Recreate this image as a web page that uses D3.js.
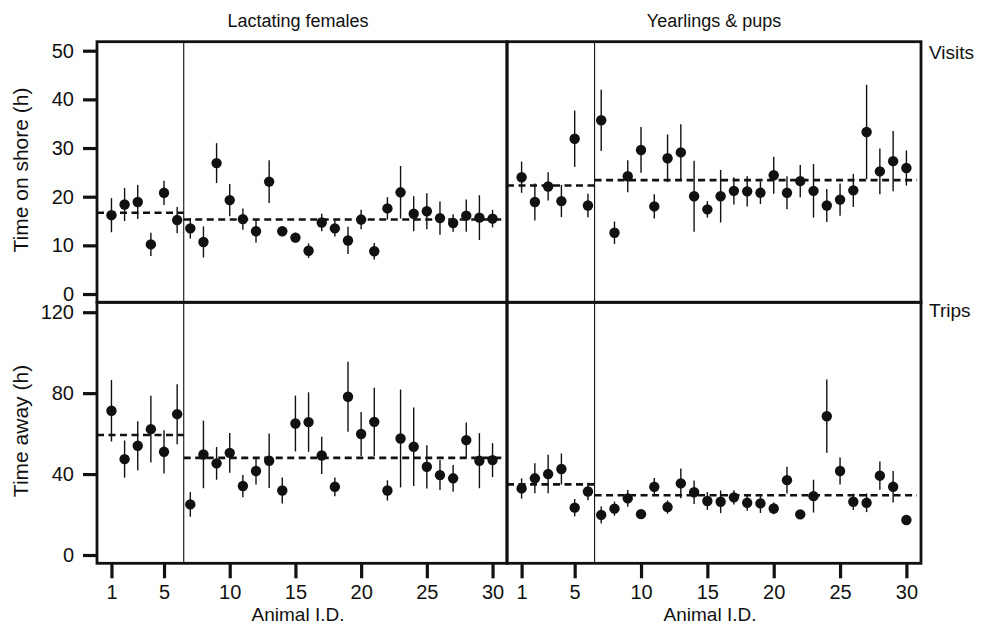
<!DOCTYPE html>
<html>
<head>
<meta charset="utf-8">
<script src="https://cdn.jsdelivr.net/npm/d3@7"></script>
<style>
  body { margin: 0; background: #fff; }
  svg { display: block; font-family: "Liberation Sans", Arial, sans-serif; }
</style>
</head>
<body>
<div id="chart"></div>
<script>
// animal IDs on the x axis
const animalIds = [1, 2, 3, 4, 5, 6, 7, 8, 9, 10, 11, 12, 13, 14, 15,
  16, 17, 18, 19, 20, 21, 22, 23, 24, 25, 26, 27, 28, 29, 30]
const xTicks = [1, 5, 10, 15, 20, 25, 30]

// Visits: time on shore (h)
const shoreFemales = [16.2, 18.4, 18.9, 10.2, 20.8, 15.2, 13.5, 10.7, 26.9, 19.3, 15.4, 12.9, 23.1, 12.9, 11.6,
  8.9, 14.7, 13.5, 11.0, 15.3, 8.8, 17.6, 20.9, 16.5, 17.0, 15.6, 14.6, 16.1, 15.7, 15.5]
const shoreFemalesErr = [3.5, 3.4, 3.5, 2.4, 2.5, 2.7, 2.1, 3.2, 4.1, 3.3, 2.2, 2.3, 4.4, 1.0, 1.0,
  1.5, 1.8, 1.7, 2.8, 2.0, 1.7, 2.3, 5.4, 3.6, 3.7, 3.4, 1.8, 3.3, 4.6, 1.8]
const shoreYoung = [24.0, 18.9, 22.1, 19.1, 31.9, 18.2, 35.7, 12.6, 24.2, 29.6, 18.0, 27.9, 29.1, 20.1, 17.4,
  20.1, 21.2, 21.1, 20.8, 24.4, 20.8, 23.2, 21.2, 18.2, 19.4, 21.3, 33.3, 25.2, 27.3, 25.9]
const shoreYoungErr = [3.2, 3.8, 2.9, 3.3, 5.8, 2.4, 6.3, 2.3, 3.3, 4.7, 2.5, 4.9, 5.8, 7.3, 1.7,
  5.4, 2.8, 3.1, 2.3, 3.8, 3.4, 3.3, 5.5, 3.4, 3.3, 3.4, 9.7, 4.7, 6.2, 3.6]

// Trips: time away (h)
const awayFemales = [71.3, 47.4, 54.0, 62.2, 51.0, 69.6, 25.0, 49.7, 45.3, 50.5, 34.1, 41.5, 46.6, 31.9, 65.0,
  65.7, 49.2, 33.7, 78.2, 59.8, 65.8, 31.9, 57.6, 53.5, 43.6, 39.5, 37.9, 56.8, 46.6, 46.9]
const awayFemalesErr = [15.2, 9.2, 12.1, 16.5, 10.7, 14.8, 6.1, 16.7, 8.1, 9.8, 5.5, 6.6, 13.5, 6.4, 13.8,
  14.7, 9.2, 4.6, 17.3, 10.9, 16.9, 5.0, 24.2, 19.4, 10.7, 7.4, 6.6, 8.7, 13.6, 8.4]
const awayYoung = [32.9, 37.9, 40.0, 42.5, 23.4, 31.4, 19.8, 22.9, 28.0, 20.2, 33.7, 23.7, 35.4, 31.0, 26.7,
  26.3, 28.5, 25.8, 25.5, 23.0, 37.0, 20.1, 29.1, 68.6, 41.5, 26.3, 25.8, 39.2, 33.7, 17.3]
const awayYoungErr = [5.0, 7.4, 9.5, 7.7, 4.3, 4.3, 4.2, 3.5, 4.1, 1.0, 4.3, 3.3, 7.4, 5.8, 4.4,
  5.6, 3.5, 3.9, 4.7, 2.9, 6.6, 0, 8.1, 18.1, 6.7, 4.0, 4.6, 7.0, 7.8, 0]

// group means: animals 1-6 and 7-30
const meanShoreFemales = [16.7, 15.3]
const meanShoreYoung = [22.3, 23.4]
const meanAwayFemales = [59.3, 48.0]
const meanAwayYoung = [34.9, 29.5]

const shoreTicks = [0, 10, 20, 30, 40, 50]
const awayTicks = [0, 40, 80, 120]

const width = 981
const height = 630
const font = "Liberation Sans, Arial, sans-serif"

const svg = d3.select("#chart")
  .append("svg")
  .attr("width", width)
  .attr("height", height)

const xLeft = d3.scaleLinear().domain([-0.1, 31.1]).range([97, 507])
const xRight = d3.scaleLinear().domain([-0.1, 31.1]).range([507, 921])
const yShore = d3.scaleLinear().domain([-1.7, 51.85]).range([302.3, 41.7])
const yAway = d3.scaleLinear().domain([-4.1, 124.9]).range([563.3, 302.3])

const panels = [
  { x: xLeft, y: yShore, vals: shoreFemales, err: shoreFemalesErr, means: meanShoreFemales },
  { x: xRight, y: yShore, vals: shoreYoung, err: shoreYoungErr, means: meanShoreYoung },
  { x: xLeft, y: yAway, vals: awayFemales, err: awayFemalesErr, means: meanAwayFemales },
  { x: xRight, y: yAway, vals: awayYoung, err: awayYoungErr, means: meanAwayYoung }
]

panels.forEach(p => {
  const [x0, x1] = p.x.range()
  const [y1, y0] = p.y.range()
  const g = svg.append("g")

  // split line between animals 6 and 7
  g.append("line")
    .attr("x1", p.x(6.5)).attr("x2", p.x(6.5))
    .attr("y1", y0).attr("y2", y1)
    .attr("stroke", "#111").attr("stroke-width", 1.1)

  // dashed means
  const segs = [[-0.1, 6.5, p.means[0]], [6.5, 30.8, p.means[1]]]
  g.selectAll(".mean")
    .data(segs)
    .enter()
    .append("line")
    .attr("x1", d => p.x(d[0]))
    .attr("x2", d => p.x(d[1]))
    .attr("y1", d => p.y(d[2]))
    .attr("y2", d => p.y(d[2]))
    .attr("stroke", "#111")
    .attr("stroke-width", 2.6)
    .attr("stroke-dasharray", "7,4.5")

  // error bars
  g.selectAll(".err")
    .data(animalIds)
    .enter()
    .append("line")
    .attr("x1", d => p.x(d))
    .attr("x2", d => p.x(d))
    .attr("y1", (d, i) => p.y(p.vals[i] - p.err[i]))
    .attr("y2", (d, i) => p.y(p.vals[i] + p.err[i]))
    .attr("stroke", "#111")
    .attr("stroke-width", 1.4)

  // points
  g.selectAll(".dot")
    .data(animalIds)
    .enter()
    .append("circle")
    .attr("cx", d => p.x(d))
    .attr("cy", (d, i) => p.y(p.vals[i]))
    .attr("r", 5.2)
    .attr("fill", "#111")

  // frame
  g.append("rect")
    .attr("x", x0).attr("y", y0)
    .attr("width", x1 - x0).attr("height", y1 - y0)
    .attr("fill", "none")
    .attr("stroke", "#111")
    .attr("stroke-width", 2.8)
})

// y axes
const yAxes = [[yShore, shoreTicks], [yAway, awayTicks]]
yAxes.forEach(([scale, ticks]) => {
  const ax = svg.append("g")
    .attr("transform", "translate(97,0)")
    .call(d3.axisLeft(scale).tickValues(ticks).tickSize(14).tickPadding(9))
  ax.select(".domain").remove()
  ax.selectAll(".tick line").attr("stroke", "#111").attr("stroke-width", 3.2)
  ax.selectAll(".tick text").attr("fill", "#111").style("font-size", "20px").style("font-family", font)
})

// x axes
;[xLeft, xRight].forEach(scale => {
  const ax = svg.append("g")
    .attr("transform", "translate(0,563.3)")
    .call(d3.axisBottom(scale).tickValues(xTicks).tickSize(15).tickPadding(7))
  ax.select(".domain").remove()
  ax.selectAll(".tick line").attr("stroke", "#111").attr("stroke-width", 3.2)
  ax.selectAll(".tick text").attr("fill", "#111").style("font-size", "20px").style("font-family", font)

  svg.append("text")
    .attr("x", (scale.range()[0] + scale.range()[1]) / 2 - 4)
    .attr("y", 621)
    .attr("text-anchor", "middle")
    .style("font-size", "19px")
    .attr("fill", "#111")
    .text("Animal I.D.")
})

// column headers
svg.append("text").attr("x", 298).attr("y", 27).attr("text-anchor", "middle")
  .style("font-size", "18px").attr("fill", "#111").text("Lactating females")
svg.append("text").attr("x", 714).attr("y", 27).attr("text-anchor", "middle")
  .style("font-size", "18px").attr("fill", "#111").text("Yearlings & pups")

// row labels
svg.append("text").attr("x", 929).attr("y", 59)
  .style("font-size", "19px").attr("fill", "#111").text("Visits")
svg.append("text").attr("x", 929).attr("y", 317)
  .style("font-size", "19px").attr("fill", "#111").text("Trips")

// y titles
svg.append("text")
  .attr("transform", "translate(28,170) rotate(-90)")
  .attr("text-anchor", "middle")
  .style("font-size", "21px").attr("fill", "#111")
  .text("Time on shore (h)")
svg.append("text")
  .attr("transform", "translate(28,431) rotate(-90)")
  .attr("text-anchor", "middle")
  .style("font-size", "21px").attr("fill", "#111")
  .text("Time away (h)")
</script>
</body>
</html>
